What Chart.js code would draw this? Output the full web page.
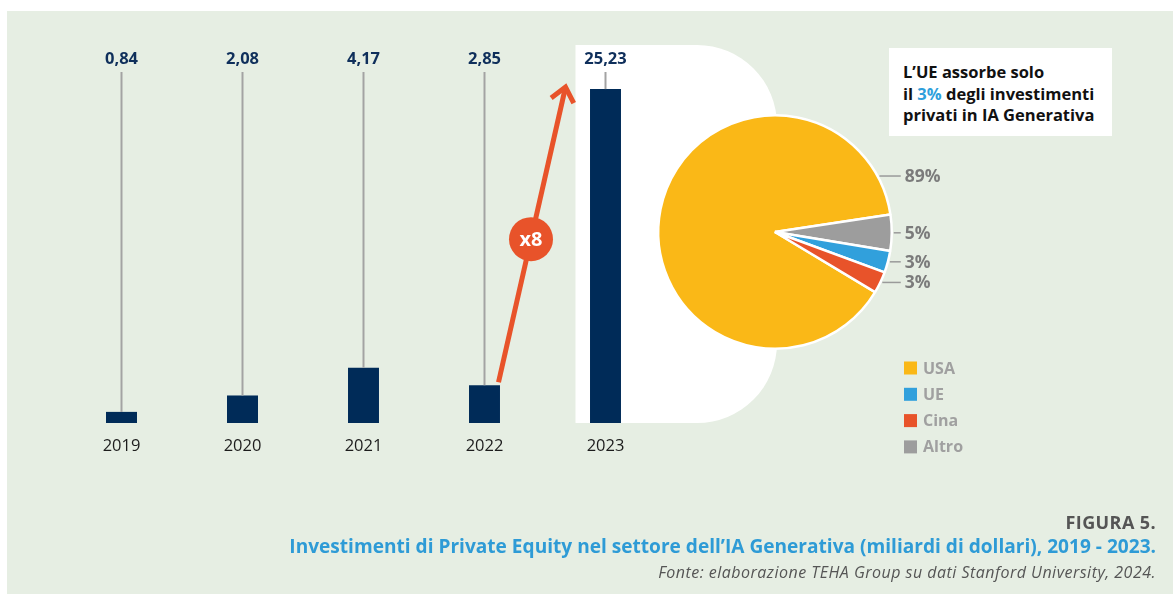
<!DOCTYPE html>
<html><head><meta charset="utf-8">
<script src="https://cdn.jsdelivr.net/npm/chart.js@4.4.1/dist/chart.umd.min.js"></script>
<style>
html,body{margin:0;padding:0;background:#fff;width:1173px;height:594px;overflow:hidden;font-family:"Open Sans",sans-serif;}
#panel{position:absolute;left:7px;top:11px;width:1166px;height:583px;background:#e6eee3;}
canvas{position:absolute;left:0;top:0;}
#box{position:absolute;left:889px;top:48px;width:223px;height:88px;background:#fff;box-sizing:border-box;padding:13px 0 0 14px;
 font-weight:700;font-size:16.5px;line-height:21.5px;color:#111;white-space:nowrap;}
#box .hl{color:#2f9fdc;}
.foot{position:absolute;right:17px;white-space:nowrap;text-align:right;}
#fig{top:509px;font-size:18px;letter-spacing:0.4px;font-weight:700;color:#555;line-height:26px;}
#ttl{top:533px;font-size:19.1px;font-weight:700;color:#2e9bd6;line-height:26px;}
#src{top:560px;font-size:16px;letter-spacing:0.48px;font-style:italic;color:#555;line-height:24px;}
</style></head>
<body>
<div id="panel"></div>
<canvas id="bars" width="1173" height="594"></canvas>
<canvas id="pie" width="1173" height="594"></canvas>
<div id="box">L’UE assorbe solo<br>il <span class="hl">3%</span> degli investimenti<br>privati in IA Generativa</div>
<div class="foot" id="fig">FIGURA 5.</div>
<div class="foot" id="ttl">Investimenti di Private Equity nel settore dell’IA Generativa (miliardi di dollari), 2019 - 2023.</div>
<div class="foot" id="src">Fonte: elaborazione TEHA Group su dati Stanford University, 2024.</div>
<script>
const years = ['2019', '2020', '2021', '2022', '2023'];
const invest = [0.84, 2.08, 4.17, 2.85, 25.23];
const pieLabelsOrder = ['USA', 'Altro', 'UE', 'Cina'];
const pieShares = [89, 5, 3, 3];
const pieColors = ['#fab817', '#9d9d9d', '#31a0dc', '#e8532a'];
const legendLabels = ['USA', 'UE', 'Cina', 'Altro'];
const legendColors = ['#fab817', '#31a0dc', '#e8532a', '#9d9d9d'];
const growthLabel = 'x8';

const FONT = 'Open Sans';
const fmt = v => v.toFixed(2).replace('.', ',');

const highlightPlugin = {
  id: 'highlight',
  beforeDatasetsDraw(chart) {
    const ctx = chart.ctx, xs = chart.scales.x, ca = chart.chartArea;
    const x0 = xs.getPixelForValue(4) - 30;
    const top = 45, bottom = ca.bottom, right = 777, r = 80;
    ctx.save();
    ctx.fillStyle = '#ffffff';
    ctx.beginPath();
    ctx.moveTo(x0, top);
    ctx.lineTo(right - r, top);
    ctx.arcTo(right, top, right, top + r, r);
    ctx.lineTo(right, bottom - r);
    ctx.arcTo(right, bottom, right - r, bottom, r);
    ctx.lineTo(x0, bottom);
    ctx.closePath();
    ctx.fill();
    ctx.restore();
  }
};

const valuePlugin = {
  id: 'values',
  afterDatasetsDraw(chart) {
    const ctx = chart.ctx;
    const meta = chart.getDatasetMeta(0);
    ctx.save();
    meta.data.forEach((bar, i) => {
      ctx.strokeStyle = '#a3a3a3';
      ctx.lineWidth = 2;
      ctx.beginPath();
      ctx.moveTo(bar.x, 72);
      ctx.lineTo(bar.x, bar.y);
      ctx.stroke();
      ctx.fillStyle = '#0f2f5b';
      ctx.font = `700 16.5px "${FONT}"`;
      ctx.textAlign = 'center';
      ctx.textBaseline = 'middle';
      ctx.fillText(fmt(invest[i]), bar.x, 59);
    });
    // growth arrow
    const a = meta.data[3], b = meta.data[4];
    const sx = a.x + 14, sy = a.y - 3, ex = b.x - 40, ey = b.y - 2;
    ctx.strokeStyle = '#e8532a';
    ctx.lineWidth = 5;
    ctx.lineCap = 'butt';
    ctx.beginPath(); ctx.moveTo(sx, sy); ctx.lineTo(ex, ey); ctx.stroke();
    const ang = Math.atan2(sy - ey, sx - ex);
    const len = 18, spread = 40 * Math.PI / 180;
    ctx.beginPath();
    ctx.moveTo(ex + len * Math.cos(ang - spread), ey + len * Math.sin(ang - spread));
    ctx.lineTo(ex, ey);
    ctx.lineTo(ex + len * Math.cos(ang + spread), ey + len * Math.sin(ang + spread));
    ctx.lineJoin = 'miter';
    ctx.stroke();
    const t = 0.485;
    const cx = sx + (ex - sx) * t, cy = sy + (ey - sy) * t;
    ctx.fillStyle = '#e8532a';
    ctx.beginPath(); ctx.arc(cx, cy, 22, 0, Math.PI * 2); ctx.fill();
    ctx.fillStyle = '#ffffff';
    ctx.font = `700 20px "${FONT}"`;
    ctx.textAlign = 'center'; ctx.textBaseline = 'middle';
    ctx.fillText(growthLabel, cx, cy + 1);
    ctx.restore();
  }
};

new Chart(document.getElementById('bars'), {
  type: 'bar',
  data: { labels: years, datasets: [{ data: invest, backgroundColor: '#002b58', categoryPercentage: 1, barPercentage: 0.256 }] },
  options: {
    responsive: false, animation: false, events: [],
    layout: { padding: { top: 26, left: 61, right: 507, bottom: 0 } },
    plugins: { legend: { display: false }, tooltip: { enabled: false } },
    scales: {
      x: {
        grid: { display: false, drawTicks: false }, border: { display: false },
        ticks: { color: '#1c1c1c', font: { family: FONT, size: 16.5 }, padding: 13, maxRotation: 0 },
        afterFit(s) { s.height = 171; }
      },
      y: { display: false, min: 0, max: 30 }
    }
  },
  plugins: [highlightPlugin, valuePlugin]
});

const pieLabelPlugin = {
  id: 'pieLabels',
  afterDatasetsDraw(chart) {
    const ctx = chart.ctx;
    const meta = chart.getDatasetMeta(0);
    ctx.save();
    meta.data.forEach((arc, i) => {
      const span = arc.endAngle - arc.startAngle;
      const ang = span > Math.PI ? arc.endAngle - 0.35 : (arc.startAngle + arc.endAngle) / 2;
      const R = arc.outerRadius;
      const px = arc.x + R * Math.cos(ang), py = arc.y + R * Math.sin(ang);
      const lx = arc.x + R + 9;
      ctx.strokeStyle = '#9a9a9a';
      ctx.lineWidth = 1.5;
      ctx.beginPath(); ctx.moveTo(px + 2, py); ctx.lineTo(lx, py); ctx.stroke();
      ctx.fillStyle = '#7b7b7b';
      ctx.font = `700 17.5px "${FONT}"`;
      ctx.textAlign = 'left'; ctx.textBaseline = 'middle';
      ctx.fillText(pieShares[i] + '%', lx + 4, py + 1);
    });
    // legend
    legendLabels.forEach((lab, i) => {
      const y = 368 + i * 26.3;
      ctx.fillStyle = legendColors[i];
      ctx.fillRect(904, y - 6.5, 13, 13);
      ctx.fillStyle = '#a0a0a0';
      ctx.font = `700 16px "${FONT}"`;
      ctx.textAlign = 'left'; ctx.textBaseline = 'middle';
      ctx.fillText(lab, 923, y + 1);
    });
    ctx.restore();
  }
};

new Chart(document.getElementById('pie'), {
  type: 'pie',
  data: { labels: pieLabelsOrder, datasets: [{ data: pieShares, backgroundColor: pieColors, borderColor: '#ffffff', borderWidth: 2.5 }] },
  options: {
    responsive: false, animation: false, events: [], rotation: 121,
    layout: { padding: { left: 657, right: 280, top: 114, bottom: 244 } },
    plugins: { legend: { display: false }, tooltip: { enabled: false } }
  },
  plugins: [pieLabelPlugin]
});
</script>
</body></html>
